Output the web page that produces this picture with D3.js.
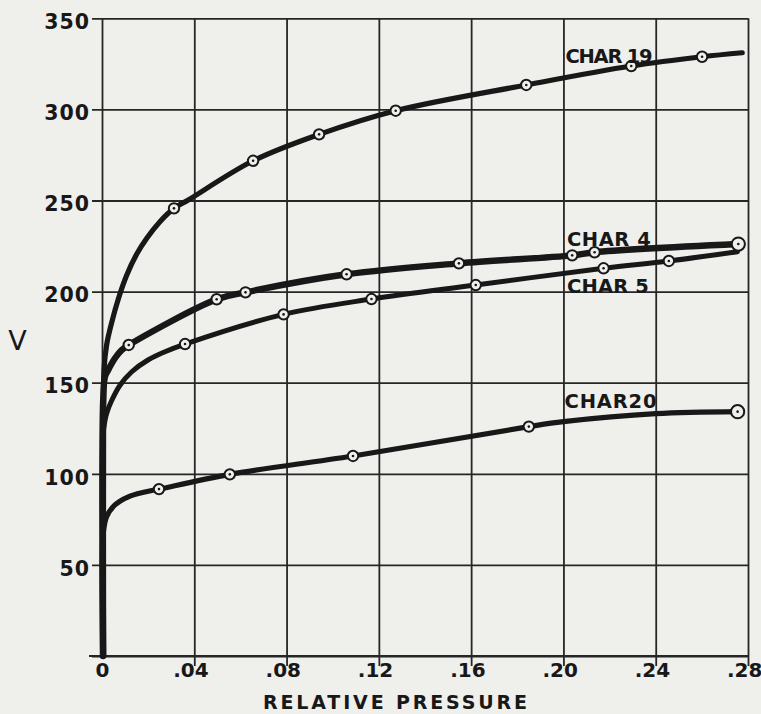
<!DOCTYPE html>
<html>
<head>
<meta charset="utf-8">
<script src="https://cdn.jsdelivr.net/npm/d3@7"></script>
<style>
  html, body { margin: 0; padding: 0; background: #efefec; }
  svg { display: block; }
</style>
</head>
<body>
<svg id="chart" width="761" height="714"></svg>
<script>
// ---------------- data ----------------
const xTicks = [0, 0.04, 0.08, 0.12, 0.16, 0.20, 0.24, 0.28];
const xTickLabels = ["0", ".04", ".08", ".12", ".16", ".20", ".24", ".28"];
const yTicks = [0, 50, 100, 150, 200, 250, 300, 350];
const yTickLabels = ["", "50", "100", "150", "200", "250", "300", "350"];
const xTitle = "RELATIVE PRESSURE";
const yTitle = "V";

const seriesNames = ["CHAR 19", "CHAR 4", "CHAR 5", "CHAR20"];

// measured points (circles)
const char19Points = [[0.0312,245.7],[0.0655,271.8],[0.0941,286.3],[0.1273,299.3],[0.1839,313.4],[0.2294,323.8],[0.2601,328.9]];
const char4Points  = [[0.0116,170.7],[0.0497,195.8],[0.0622,199.6],[0.1060,209.5],[0.1547,215.5],[0.2038,219.9],[0.2135,221.6],[0.2758,226.1]];
const char5Points  = [[0.0360,171.2],[0.0787,187.5],[0.1168,195.9],[0.1620,203.6],[0.2174,212.8],[0.2457,216.8]];
const char20Points = [[0.0247,91.6],[0.0554,99.7],[0.1088,109.8],[0.1850,125.9],[0.2755,134.1]];

// drawn curve traces (rise from origin, then through the points)
const char19Lead = [[0.0007,0],[0.0007,138],[0.0009,157.6],[0.0020,170.7],[0.0042,183.0],[0.0071,196.1],[0.0107,209.0],[0.0150,220.5],[0.0194,229.3],[0.0251,238.4]];
const char19Extra = [[0.0374,250.3]];
const char19Tail = [[0.2775,331.1]];
const char4Lead  = [[0.0005,0],[0.0005,140],[0.0013,153.3],[0.0027,157.0],[0.0056,163.4],[0.0085,167.9]];
const char4Tail  = [];
const char5Lead  = [[0.0003,0],[0.0003,116],[0.0007,124.3],[0.0020,133.1],[0.0042,140.2],[0.0078,148.6],[0.0129,156.0],[0.0201,162.6],[0.0273,167.0]];
const char5Tail  = [[0.2754,221.9]];
const char20Lead = [[0.0002,0],[0.0002,60],[0.0007,69],[0.0020,76.5],[0.0056,82.9],[0.0114,87.4],[0.0186,90.0]];
const char20Extra = [[0.20,128.6],[0.24,133.0]];

// label anchors in data units
const labelAt = [[0.2009,325.6],[0.2015,225.0],[0.2015,199.1],[0.2005,135.9]];

// ---------------- build ----------------
const W = 761, H = 714;
const svg = d3.select("#chart");
svg.append("rect").attr("width", W).attr("height", H).attr("fill", "#efefec");

const x = d3.scaleLinear().domain([0, 0.28]).range([102, 748]);
const y = d3.scaleLinear().domain([0, 350]).range([656, 18.3]);

const ink = "#181818";
const gridInk = "#262626";
const font = "'DejaVu Sans', Verdana, sans-serif";

// Y grid + labels
const gy = svg.append("g")
  .attr("transform", `translate(${x(0) - 10},0)`)
  .call(d3.axisLeft(y).tickValues(yTicks)
    .tickFormat((d, i) => yTickLabels[i])
    .tickSize(-(x(0.28) - x(0) + 10)).tickPadding(2));
gy.select(".domain").remove();
gy.selectAll(".tick line").attr("stroke", gridInk).attr("stroke-width", 1.8);
gy.selectAll(".tick text").attr("fill", ink).attr("font-family", font)
  .attr("font-weight", "bold").attr("font-size", 20.5)
  .attr("letter-spacing", 1).attr("dy", "0.5em");

// X grid + labels
const gridH = y(0) + 10 - y(350);
const gx = svg.append("g")
  .attr("transform", `translate(0,${y(0) + 10})`)
  .call(d3.axisBottom(x).tickValues(xTicks)
    .tickFormat((d, i) => xTickLabels[i])
    .tickSize(-gridH).tickPadding(-3));
gx.select(".domain").remove();
gx.selectAll(".tick line").attr("stroke", gridInk).attr("stroke-width", 1.8)
  .attr("y1", d => d === 0 ? -10 : 0);
gx.selectAll(".tick text").attr("fill", ink).attr("font-family", font)
  .attr("font-weight", "bold").attr("font-size", 20)
  .attr("dx", (d, i) => xTickLabels[i].startsWith(".") ? "-0.19em" : 0);

// bottom baseline extension
svg.append("line")
  .attr("x1", x(0) - 13).attr("x2", x(0.28))
  .attr("y1", y(0)).attr("y2", y(0))
  .attr("stroke", gridInk).attr("stroke-width", 1.8);

// Titles
svg.append("text").text(xTitle)
  .attr("x", 395).attr("y", 709).attr("text-anchor", "middle")
  .attr("font-family", font).attr("font-weight", "bold").attr("font-size", 19)
  .attr("textLength", 264).attr("lengthAdjust", "spacing").attr("fill", ink);
svg.append("text").text(yTitle)
  .attr("x", 17.5).attr("y", 350).attr("text-anchor", "middle")
  .attr("font-family", font).attr("font-size", 27).attr("fill", ink);

// curves
const line = d3.line().x(d => x(d[0])).y(d => y(d[1])).curve(d3.curveCatmullRom.alpha(0.5));

function insertSorted(points, extra) {
  return points.concat(extra).sort((a, b) => a[0] - b[0]);
}

const series = [
  { name: seriesNames[0], points: char19Points, trace: char19Lead.concat(insertSorted(char19Points, char19Extra), char19Tail), sw: 5.2, bigLast: false },
  { name: seriesNames[1], points: char4Points,  trace: char4Lead.concat(char4Points, char4Tail), sw: 6.4, bigLast: true },
  { name: seriesNames[2], points: char5Points,  trace: char5Lead.concat(char5Points, char5Tail), sw: 5.0, bigLast: false },
  { name: seriesNames[3], points: char20Points, trace: char20Lead.concat(insertSorted(char20Points, char20Extra)), sw: 5.2, bigLast: true }
];
const labelWidths = [87, 84, 82, 92];

series.forEach((s) => {
  svg.append("path").attr("d", line(s.trace))
    .attr("fill", "none").attr("stroke", ink).attr("stroke-width", s.sw)
    .attr("stroke-linecap", "round").attr("stroke-linejoin", "round");
});

series.forEach((s, si) => {
  const g = svg.append("g");
  g.selectAll("circle.m").data(s.points).join("circle")
    .attr("class", "m")
    .attr("cx", d => x(d[0])).attr("cy", d => y(d[1]))
    .attr("r", (d, i) => (s.bigLast && i === s.points.length - 1) ? 6.6 : 5.2)
    .attr("fill", "#efefec").attr("stroke", ink).attr("stroke-width", 2);
  g.selectAll("circle.c").data(s.points).join("circle")
    .attr("class", "c")
    .attr("cx", d => x(d[0])).attr("cy", d => y(d[1]))
    .attr("r", 1.3).attr("fill", ink);
  svg.append("text").text(s.name)
    .attr("x", x(labelAt[si][0])).attr("y", y(labelAt[si][1]))
    .attr("font-family", font).attr("font-weight", "bold").attr("font-size", 19.5)
    .attr("textLength", labelWidths[si]).attr("lengthAdjust", "spacing")
    .attr("fill", ink);
});
</script>
</body>
</html>
